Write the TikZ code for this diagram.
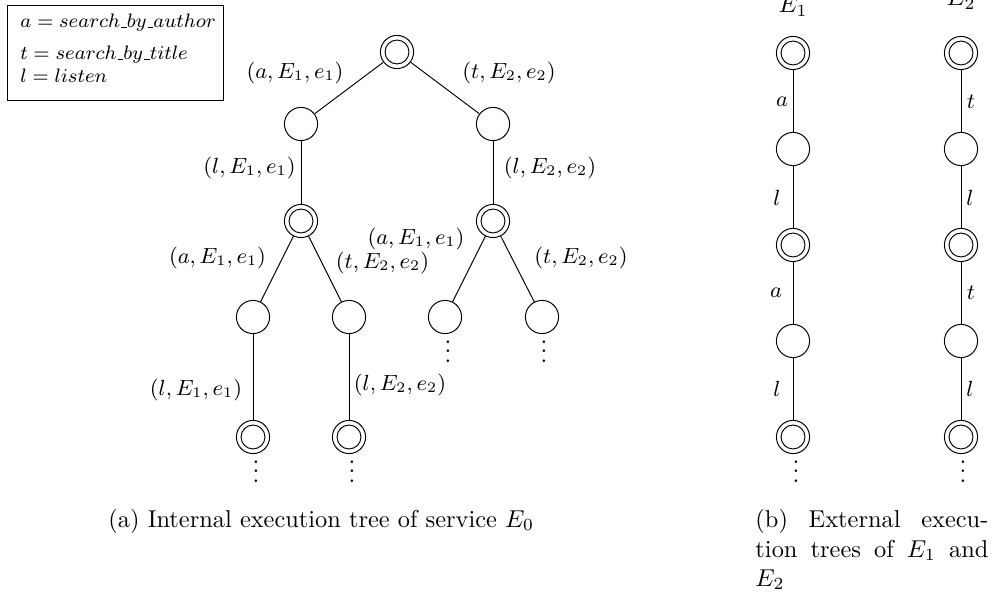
\documentclass[tikz,border=0pt]{standalone}
\newcommand\usbar{\leavevmode\kern.06em\vbox{\hrule width.3em}}
\newcommand\myvdots{\vbox{\baselineskip4pt\lineskiplimit0pt\hbox{.}\hbox{.}\hbox{.}}}
\begin{document}
\begin{tikzpicture}[x=0.41pt,y=-0.41pt,
  st/.style={circle,draw,minimum size=13.6pt,inner sep=0pt},
  dst/.style={st,path picture={\draw (path picture bounding box.center) circle (4.9pt);}},
  lbl/.style={font=\small,inner sep=0pt},
  vd/.style={anchor=south,inner sep=0pt},
  captext/.style={anchor=base west,inner sep=0pt},
  leg/.style={anchor=base west,inner sep=0pt,font=\fontsize{7.6}{9}\selectfont}]
\useasboundingbox (0,0) rectangle (994,594);

% legend
\node[draw,minimum width=88.6pt,minimum height=39pt,anchor=north west,inner sep=0pt] (legbox) at (7,5) {};
\node[leg] (leg1) at (20,28) {$a = search\usbar by\usbar author$};
\node[leg] (leg2) at (20,60) {$t = search\usbar by\usbar title$};
\node[leg] (leg3) at (20,83) {$l = listen$};

% internal tree
\node[dst] (r) at (397,52) {};
\node[st] (a1) at (301,124) {};
\node[st] (b1) at (493,124) {};
\node[dst] (a2) at (301,221) {};
\node[dst] (b2) at (493,221) {};
\node[st] (a3) at (253,317) {};
\node[st] (a3r) at (349,317) {};
\node[st] (b3) at (445,317) {};
\node[st] (b3r) at (542,317) {};
\node[dst] (a4) at (253,437) {};
\node[dst] (a4r) at (349,437) {};

\draw (r) -- (a1);
\draw (r) -- (b1);
\draw (a1) -- (a2);
\draw (b1) -- (b2);
\draw (a2) -- (a3);
\draw (a2) -- (a3r);
\draw (b2) -- (b3);
\draw (b2) -- (b3r);
\draw (a3) -- (a4);
\draw (a3r) -- (a4r);

\node[vd] (d1) at (448,363) {\myvdots};
\node[vd] (d2) at (544,363) {\myvdots};
\node[vd] (d3) at (256,483) {\myvdots};
\node[vd] (d4) at (352,483) {\myvdots};

\node[lbl] (l1) at (295,73) {$(a, E_1, e_1)$};
\node[lbl] (l2) at (509,73) {$(t, E_2, e_2)$};
\node[lbl] (l3) at (249.5,168) {$(l, E_1, e_1)$};
\node[lbl] (l4) at (550,168) {$(l, E_2, e_2)$};
\node[lbl] (l5) at (217.5,258) {$(a, E_1, e_1)$};
\node[lbl] (l6) at (382.5,263) {$(t, E_2, e_2)$};
\node[lbl] (l7) at (416,239) {$(a, E_1, e_1)$};
\node[lbl] (l8) at (581,258) {$(t, E_2, e_2)$};
\node[lbl] (l9) at (196,390) {$(l, E_1, e_1)$};
\node[lbl] (l10) at (400,385) {$(l, E_2, e_2)$};

% external trees
\node[anchor=base,inner sep=0pt] (e1) at (793,13) {$E_1$};
\node[anchor=base,inner sep=0pt] (e2) at (961,6) {$E_2$};

\node[dst] (p1) at (793,53) {};
\node[st]  (p2) at (793,149) {};
\node[dst] (p3) at (793,245) {};
\node[st]  (p4) at (793,341) {};
\node[dst] (p5) at (793,437) {};
\node[dst] (q1) at (961,53) {};
\node[st]  (q2) at (961,149) {};
\node[dst] (q3) at (961,245) {};
\node[st]  (q4) at (961,341) {};
\node[dst] (q5) at (961,437) {};

\draw (p1) -- (p2);
\draw (p2) -- (p3);
\draw (p3) -- (p4);
\draw (p4) -- (p5);
\draw (q1) -- (q2);
\draw (q2) -- (q3);
\draw (q3) -- (q4);
\draw (q4) -- (q5);

\node[vd] (d5) at (796,483) {\myvdots};
\node[vd] (d6) at (963,483) {\myvdots};

\node[lbl] (m1) at (782,102) {$a$};
\node[lbl] (m2) at (777,198) {$l$};
\node[lbl] (m3) at (776,293) {$a$};
\node[lbl] (m4) at (777,389) {$l$};
\node[lbl] (n1) at (971,102) {$t$};
\node[lbl] (n2) at (970,198) {$l$};
\node[lbl] (n3) at (971,293) {$t$};
\node[lbl] (n4) at (970,389) {$l$};

% captions
\node[captext] (capa) at (108,527) {(a) Internal execution tree of service $E_0$};
\node[captext] (capb1) at (755,527) {\makebox[95.5pt][s]{(b) External execu-}};
\node[captext] (capb2) at (755,557) {\makebox[95.5pt][s]{tion trees of $E_1$ and}};
\node[captext] (capb3) at (755,586) {$E_2$};
\end{tikzpicture}
\end{document}
